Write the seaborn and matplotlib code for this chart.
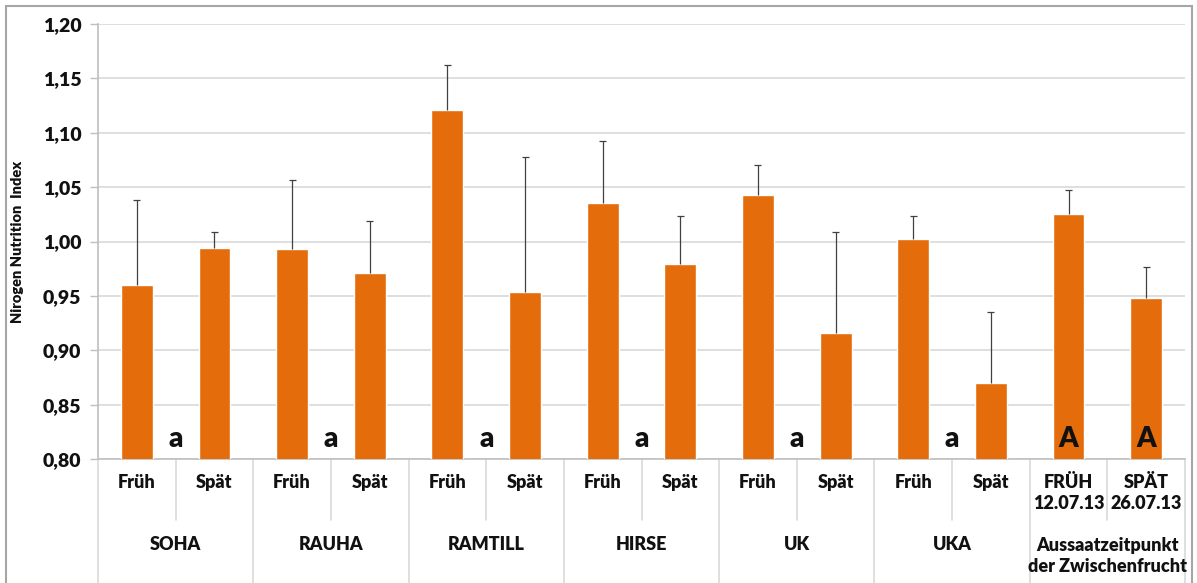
import matplotlib
matplotlib.use("Agg")
import matplotlib.pyplot as plt
import seaborn as sns
import pandas as pd
from matplotlib.patches import Rectangle

groups = ["SOHA", "RAUHA", "RAMTILL", "HIRSE", "UK", "UKA", "Aussaatzeitpunkt\nder Zwischenfrucht"]
sub_labels = ["Früh", "Spät", "Früh", "Spät", "Früh", "Spät", "Früh", "Spät",
              "Früh", "Spät", "Früh", "Spät", "FRÜH\n12.07.13", "SPÄT\n26.07.13"]
values = [0.960, 0.994, 0.993, 0.971, 1.121, 0.954, 1.035, 0.979,
          1.043, 0.916, 1.002, 0.870, 1.025, 0.948]
err_top = [1.038, 1.009, 1.057, 1.019, 1.162, 1.078, 1.092, 1.023,
           1.070, 1.009, 1.023, 0.935, 1.047, 0.977]
group_letters = ["a", "a", "a", "a", "a", "a"]
bar_letters = ["A", "A"]

sns.set_theme(style="white")
plt.rcParams["font.family"] = ["Lato", "DejaVu Sans"]
plt.rcParams["font.weight"] = "bold"

keys = [f"{i}_{s}" for i, s in enumerate(sub_labels)]
df = pd.DataFrame({"key": keys, "value": values})

fig = plt.figure(figsize=(11.97, 5.83), dpi=100)
ax = fig.add_axes([98 / 1197, 1 - 459 / 583, (1185 - 98) / 1197, (459 - 24) / 583])

orange = "#E46C0A"
sns.barplot(data=df, x="key", y="value", order=keys, color=orange, saturation=1,
            width=0.41, ax=ax, errorbar=None, zorder=3)

xs = list(range(len(values)))
ax.vlines(xs, values, err_top, color="#404040", lw=0.9, zorder=4)
ax.hlines(err_top, [x - 0.045 for x in xs], [x + 0.045 for x in xs], color="#404040", lw=0.9, zorder=4)

ax.set_ylim(0.80, 1.20)
ax.set_xlim(-0.5, len(values) - 0.5)
yt = [0.80 + 0.05 * i for i in range(9)]
ax.set_yticks(yt)
ax.set_yticklabels([f"{t:.2f}".replace(".", ",") for t in yt], fontsize=14, fontweight="heavy",
                   color="#111111")
ax.grid(axis="y", color="#D9D9D9", linewidth=1.2, zorder=0)
ax.tick_params(axis="y", length=6, color="#BFBFBF", width=1, pad=6, left=True)
ax.set_xticks([])
ax.set_xlabel("")
ax.set_ylabel("Nirogen Nutrition  Index", fontsize=10.5, fontweight="heavy", color="#111111")
ax.yaxis.set_label_coords(-0.0685, 0.5)
for side in ["top", "right"]:
    ax.spines[side].set_visible(False)
for side in ["left", "bottom"]:
    ax.spines[side].set_color("#BFBFBF")
    ax.spines[side].set_linewidth(1.2)

tr = ax.get_xaxis_transform()
y_short = (459 - 520) / 435
y_long = (459 - 583) / 435
# separators
for b in range(len(groups) + 1):
    x = b * 2 - 0.5
    ax.plot([x, x], [0, y_long], transform=tr, color="#D9D9D9", lw=1.2, clip_on=False)
for g in range(len(groups)):
    x = g * 2 + 0.5
    ax.plot([x, x], [0, y_short], transform=tr, color="#D9D9D9", lw=1.2, clip_on=False)

# sub labels
for i, s in enumerate(sub_labels):
    ax.text(i, (459 - 474) / 435, s, transform=tr, ha="center", va="top",
            fontsize=13, fontweight="heavy", linespacing=1.3, color="#111111")
# group labels
for g, name in enumerate(groups):
    ax.text(g * 2 + 0.5, (459 - 545) / 435 if "\n" not in name else (459 - 556) / 435, name,
            transform=tr, ha="center", va="center", fontsize=13, fontweight="heavy",
            linespacing=1.3, color="#111111")

# letters
for g, lt in enumerate(group_letters):
    ax.text(g * 2 + 0.5, 0.8065, lt, ha="center", va="bottom", fontsize=20,
            fontweight="heavy", color="#111111", zorder=5)
for j, lt in enumerate(bar_letters):
    ax.text(12 + j, 0.8065, lt, ha="center", va="bottom", fontsize=20,
            fontweight="heavy", color="#111111", zorder=5)

# outer frame
fig.patches.append(Rectangle((6 / 1197, -0.01), (1192 - 6) / 1197, 1 - 6 / 583 + 0.01,
                             transform=fig.transFigure, fill=False, edgecolor="#A6A6A6",
                             linewidth=1.5))

fig.savefig("out.png", dpi=100)
